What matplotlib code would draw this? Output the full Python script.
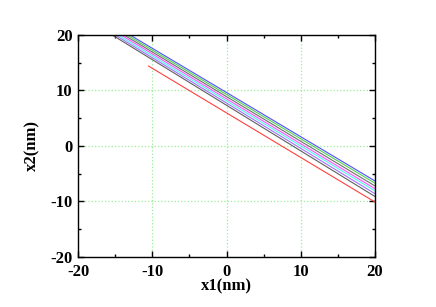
import matplotlib
matplotlib.use("Agg")
import matplotlib.pyplot as plt
from matplotlib.ticker import MultipleLocator

plt.rcParams['font.family'] = ['Liberation Serif', 'DejaVu Serif']
plt.rcParams['axes.unicode_minus'] = False

colors = ['#5050ff', '#50d050', '#707070', '#ff50ff', '#50f0f0', '#a070ff', '#606060', '#ff4040']
x_start = [-13.0, -13.4, -13.8, -14.2, -14.6, -15.0, -15.4, -10.5]
y_start = [20.0, 20.0, 20.0, 20.0, 20.0, 20.0, 20.0, 14.4]
x_end = [20.0] * 8
y_end = [-6.3, -6.7, -7.2, -7.7, -8.1, -8.6, -9.1, -10.1]

fig = plt.figure(figsize=(4.36, 3.07), dpi=100)
ax = fig.add_axes([0.179, 0.163, 0.681, 0.723])

for c, xs, ys, xe, ye in zip(colors, x_start, y_start, x_end, y_end):
    ax.plot([xs, xe], [ys, ye], color=c, lw=0.8)

ax.set_xlim(-20, 20)
ax.set_ylim(-20, 20)
ax.xaxis.set_major_locator(MultipleLocator(10))
ax.yaxis.set_major_locator(MultipleLocator(10))
ax.xaxis.set_minor_locator(MultipleLocator(5))
ax.yaxis.set_minor_locator(MultipleLocator(5))
ax.grid(True, which='major', color='#99ee99', linestyle=':', lw=0.9)
ax.tick_params(which='both', direction='in', top=True, right=True, labelsize=12, width=1)
ax.tick_params(axis='x', pad=5)
ax.tick_params(axis='y', pad=4)
ax.tick_params(which='major', length=4)
ax.tick_params(which='minor', length=2)
for lab in ax.get_xticklabels() + ax.get_yticklabels():
    lab.set_fontweight('bold')
for s in ax.spines.values():
    s.set_linewidth(1.0)
ax.set_xlabel('x1(nm)', fontsize=12, fontweight='bold', labelpad=-1)
ax.set_ylabel('x2(nm)', fontsize=12, fontweight='bold', labelpad=7)

fig.savefig('out.png', dpi=100)
